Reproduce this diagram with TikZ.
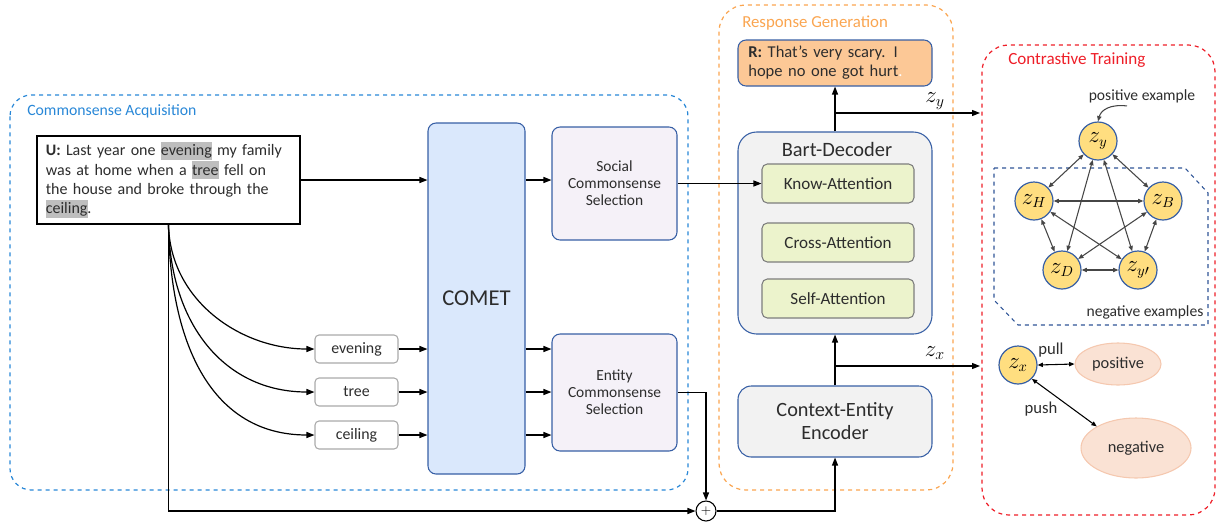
\documentclass[tikz,border=0pt]{standalone}
\usepackage{fontspec}
\setmainfont{Carlito}
\usetikzlibrary{arrows.meta,calc,shapes.geometric}
\definecolor{cablue}{RGB}{40,135,215}
\definecolor{rgorange}{RGB}{250,165,80}
\definecolor{ctred}{RGB}{238,30,40}
\definecolor{boxblue}{RGB}{55,95,165}
\definecolor{cometfill}{RGB}{218,232,252}
\definecolor{selfill}{RGB}{245,241,248}
\definecolor{rfill}{RGB}{252,200,150}
\definecolor{bartfill}{RGB}{242,242,242}
\definecolor{attfill}{RGB}{236,243,204}
\definecolor{attborder}{RGB}{125,125,125}
\definecolor{wordborder}{RGB}{170,170,170}
\definecolor{zfill}{RGB}{255,222,128}
\definecolor{elfill}{RGB}{250,226,212}
\definecolor{elborder}{RGB}{245,200,175}
\definecolor{txt}{RGB}{45,45,45}
\definecolor{edgegray}{RGB}{70,70,70}
\definecolor{negblue}{RGB}{47,85,151}
\definecolor{hlgray}{RGB}{190,190,190}
\newcommand\hlword[1]{\leavevmode\setbox0\hbox{#1}\rlap{\textcolor{hlgray}{\rule[-3.2pt]{\wd0}{13.5pt}}}#1}
\tikzset{
  arr/.style={-{Triangle[length=6pt,width=4.5pt]}, line width=0.9pt},
  darr/.style={{Triangle[length=4pt,width=3.2pt]}-{Triangle[length=4pt,width=3.2pt]}, line width=0.8pt, draw=edgegray},
  region/.style={dashed, line width=0.9pt, rounded corners=16pt},
  blk/.style={draw=boxblue, line width=0.8pt, rounded corners=6pt, text=txt, align=center, inner sep=0pt},
  wordbox/.style={draw=wordborder, line width=0.8pt, rounded corners=3pt, fill=white, text=txt, minimum width=62.25pt, minimum height=21pt, inner sep=0pt, font=\fontsize{11.9}{13}\selectfont},
  attbox/.style={draw=attborder, line width=0.8pt, rounded corners=4pt, fill=attfill, text=txt, minimum width=114pt, minimum height=29.25pt, inner sep=0pt, font=\fontsize{12.8}{14}\selectfont},
  zcirc/.style={circle, draw=boxblue, line width=0.9pt, fill=zfill, minimum size=28.5pt, inner sep=0pt, font=\fontsize{16}{18}\selectfont},
  ell/.style={ellipse, draw=elborder, line width=0.8pt, fill=elfill, text=txt, inner sep=0pt, font=\fontsize{12.3}{14}\selectfont},
  small/.style={inner sep=0pt, text=txt, font=\fontsize{11.7}{13}\selectfont},
  lbl/.style={inner sep=0pt}
}
\begin{document}
\begin{tikzpicture}[x=0.75pt,y=-0.75pt]
\useasboundingbox (0,0) rectangle (1217,522);
% regions
\draw[region, draw=cablue] (10,95) rectangle (688,490);
\node[lbl, anchor=west, text=cablue, font=\fontsize{11.8}{13}\selectfont] (lblca) at (27,111) {Commonsense Acquisition};
\draw[region, draw=rgorange, rounded corners=20pt] (719,5) rectangle (953,490);
\node[lbl, anchor=west, text=rgorange, font=\fontsize{12.6}{14}\selectfont] (lblrg) at (742,23) {Response Generation};
\draw[region, draw=ctred, rounded corners=20pt] (982,45) rectangle (1215,515);
\node[lbl, anchor=west, text=ctred, font=\fontsize{12.8}{14}\selectfont] (lblct) at (1008,60) {Contrastive Training};

% utterance
\node[draw=black, line width=0.9pt, fill=white, text=txt, align=left, text width=184pt, inner xsep=6.6pt, minimum height=66pt, font=\fontsize{12}{14.5}\selectfont] (U) at (168.5,180)
 {\textbf{U:} Last year one \hlword{evening} my family\\ was at home when a \hlword{tree} fell on\\ the house and broke through the\\ \hlword{ceiling}.};

% COMET and selections
\node[blk, fill=cometfill, minimum width=72.75pt, minimum height=263.25pt, font=\fontsize{17}{19}\selectfont] (COMET) at (476.5,298.5) {COMET};
\node[blk, fill=selfill, minimum width=93.75pt, minimum height=84.75pt, font=\fontsize{11.6}{12.75}\selectfont] (Social) at (614.5,183.5) {Social\\Commonsense\\Selection};
\node[blk, fill=selfill, minimum width=93.75pt, minimum height=87.75pt, font=\fontsize{11.6}{12.75}\selectfont] (Entity) at (614.5,392.5) {Entity\\Commonsense\\Selection};

% entity words
\node[wordbox] (evening) at (356.5,349) {evening};
\node[wordbox] (tree) at (356.5,392) {tree};
\node[wordbox] (ceiling) at (356.5,435) {ceiling};

% plus
\node[circle, draw=black, line width=0.8pt, fill=white, minimum size=15pt, inner sep=0pt, font=\fontsize{10}{10}\selectfont] (plus) at (706,511) {$+$};

% response generation
\node[blk, fill=rfill, text width=130pt, inner xsep=7.75pt, minimum height=34.5pt, align=left, font=\fontsize{12.4}{14.2}\selectfont] (R) at (835,63) {\textbf{R:} That's very scary. I\\hope no one got hurt\textcolor{white}{.}};
\node[blk, fill=bartfill, rounded corners=14pt, minimum width=145.5pt, minimum height=151.5pt] (Bart) at (835,233) {};
\node[inner sep=0pt, text=txt, font=\fontsize{15.3}{17}\selectfont] (bartt) at (837,149) {Bart-Decoder};
\node[attbox] (Know) at (838,183.5) {Know-Attention};
\node[attbox] (Cross) at (838,242.5) {Cross-Attention};
\node[attbox] (Self) at (838,298.5) {Self-Attention};
\node[blk, fill=bartfill, rounded corners=10pt, minimum width=145.5pt, minimum height=53.25pt, font=\fontsize{15.2}{17.25}\selectfont] (Enc) at (835,421.5) {Context-Entity\\Encoder};

\coordinate (zyend) at (980,113);
\coordinate (zxend) at (980,366);
\node[inner sep=0pt, font=\fontsize{17}{19}\selectfont] (zylbl) at (935,101) {$z_y$};
\node[inner sep=0pt, font=\fontsize{17}{19}\selectfont] (zxlbl) at (935,353) {$z_x$};

% contrastive
\draw[dashed, draw=negblue, line width=0.8pt] (994,168) -- (1185,168) -- (1208,193) -- (1208,325) -- (1018,325) -- (994,300) -- cycle;
\node[zcirc] (zy) at (1098,141) {$z_y$};
\node[zcirc] (zH) at (1034,201) {$z_H$};
\node[zcirc] (zB) at (1163,201) {$z_B$};
\node[zcirc] (zD) at (1062,270) {$z_D$};
\node[zcirc] (zyp) at (1138,270) {$z_{y\prime}$};
\node[small] (posex) at (1142,96) {positive example};
\node[small] (negex) at (1145,312) {negative examples};
\node[zcirc] (zx) at (1018,365) {$z_x$};
\node[ell, minimum width=64.5pt, minimum height=31.5pt] (pos) at (1118,364) {positive};
\node[ell, minimum width=82.5pt, minimum height=45pt] (neg) at (1136,448) {negative};
\node[small, font=\fontsize{12.5}{14}\selectfont] (pulll) at (1051,350) {pull};
\node[small, font=\fontsize{12.5}{14}\selectfont] (pushl) at (1041,409) {push};

% connectors
\draw[arr] (U.east) -- (U.east -| COMET.west);
\draw[arr] (COMET.east |- U.east) -- (Social.west |- U.east);
\draw[arr] (U.south) .. controls (170,300) and (240,349) .. (evening.west);
\draw[arr] (U.south) .. controls (170,325) and (225,392) .. (tree.west);
\draw[arr] (U.south) .. controls (170,345) and (212,435) .. (ceiling.west);
\foreach \w in {evening,tree,ceiling}{
  \draw[arr] (\w.east) -- (\w.east -| COMET.west);
  \draw[arr] (COMET.east |- \w.east) -- (Entity.west |- \w.east);
}
\draw[arr] (U.south) |- (plus.west);
\draw[arr] (Entity.east) -| (plus.north);
\draw[arr] (plus.east) -| (Enc.south);
\draw[arr] (Social.east) -- (Know.west);
\draw[arr] (Enc.north) -- (Bart.south);
\draw[arr] (Bart.north) -- (R.south);
\draw[arr] (Bart.north |- zyend) -- (zyend);
\draw[arr] (Enc.north |- zxend) -- (zxend);

\foreach \a/\b in {zy/zH,zy/zB,zy/zD,zy/zyp,zH/zB,zH/zD,zH/zyp,zB/zD,zB/zyp,zD/zyp}{
  \draw[darr] (\a) -- (\b);
}
\draw[-{Triangle[length=4pt,width=3.2pt]}, line width=0.8pt, draw=edgegray] ($(posex.south)+(-15,3)$) .. controls (1110,104) and (1101,110) .. (zy.north);
\draw[darr, draw=black] (zx.east) -- (pos.west);
\draw[darr, draw=black] (zx.south east) -- (neg.north west);
\end{tikzpicture}
\end{document}
